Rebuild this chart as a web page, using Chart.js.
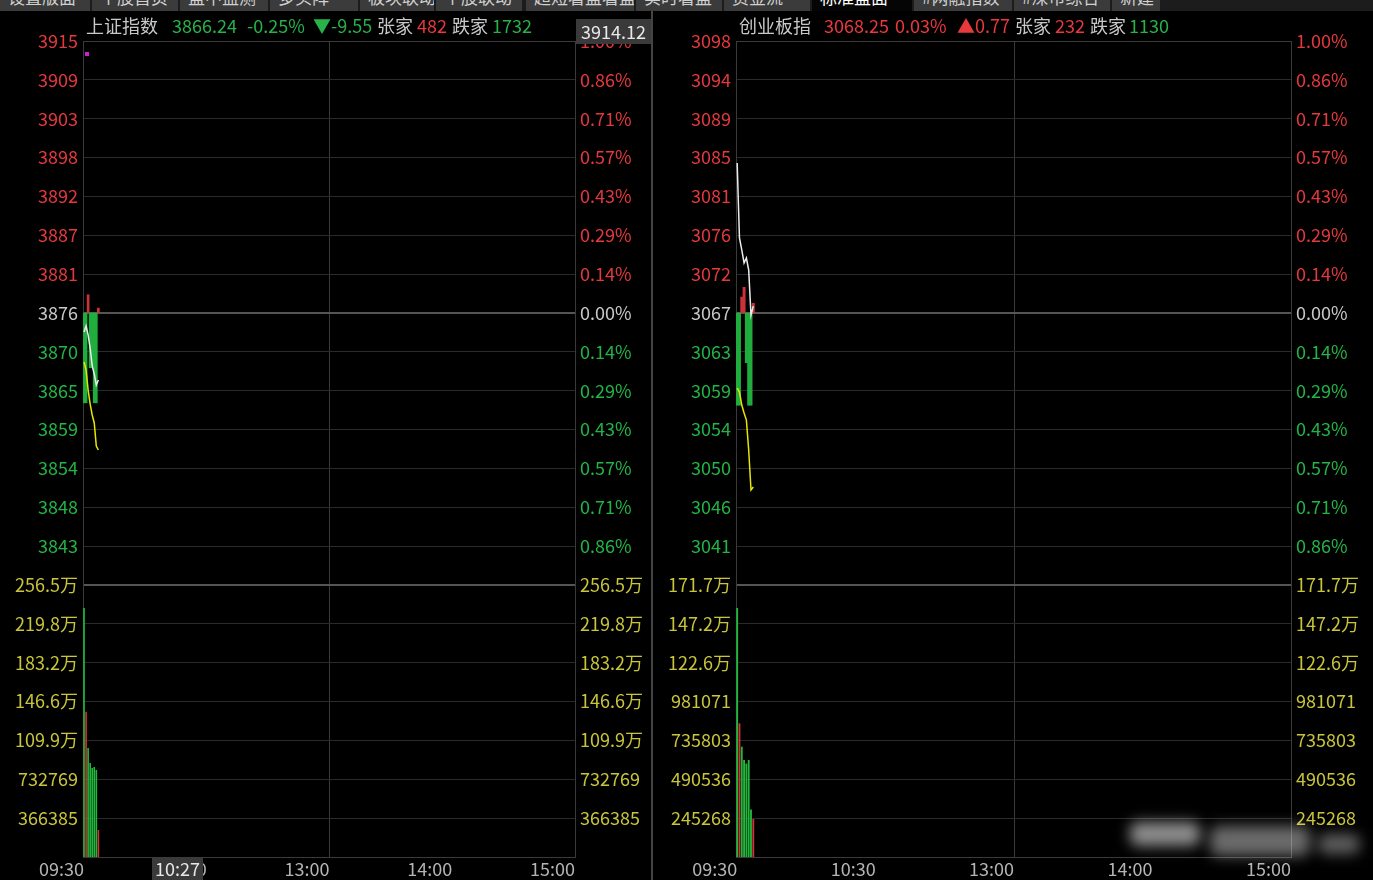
<!DOCTYPE html>
<html>
<head>
<meta charset="utf-8">
<script src="https://cdn.jsdelivr.net/npm/chart.js@4.4.1/dist/chart.umd.min.js"></script>
<style>
  body { margin:0; background:#000; width:1373px; height:880px; overflow:hidden; position:relative;
         font-family:"Noto Sans CJK SC","Noto Sans",sans-serif; }
  .tabs { position:absolute; left:0; top:0; width:1373px; height:11px; background:#1c1c1c; overflow:hidden; }
  .tab { position:absolute; top:0; height:11px; background:#3b3b3b; overflow:hidden; }
  .tab span { position:absolute; left:8px; top:-13px; font-size:17px; line-height:20px; color:#d0d0d0; white-space:nowrap; }
  .tab.active { background:#050505; }
  .tab.active span { color:#fff; }
  .hd { position:absolute; top:13px; font-size:18px; line-height:24px; white-space:nowrap; }
  .box { position:absolute; background:#3a3a3a; color:#e8e8e8; font-size:18px; text-align:center; }
  canvas { position:absolute; top:0; }
  .sep { position:absolute; left:651px; top:11px; width:2px; height:869px; background:#444; }
  .blob { position:absolute; background:rgba(235,235,235,0.6); filter:blur(7px); border-radius:8px; }
</style>
</head>
<body>
<div class="tabs">
  <div class="tab" style="left:0;width:90px"><span>设置版面</span></div>
  <div class="tab" style="left:92px;width:86px"><span>个股首页</span></div>
  <div class="tab" style="left:180px;width:88px"><span>盘中监测</span></div>
  <div class="tab" style="left:270px;width:88px"><span>多头阵</span></div>
  <div class="tab" style="left:360px;width:74px"><span>板块联动</span></div>
  <div class="tab" style="left:436px;width:86px"><span>个股联动</span></div>
  <div class="tab" style="left:526px;width:108px"><span>超短看盘看盘</span></div>
  <div class="tab" style="left:636px;width:86px"><span>实时看盘</span></div>
  <div class="tab" style="left:724px;width:86px"><span>资金流</span></div>
  <div class="tab active" style="left:812px;width:100px"><span>标准盘面</span></div>
  <div class="tab" style="left:914px;width:98px"><span>#两融指数</span></div>
  <div class="tab" style="left:1014px;width:96px"><span>#深市综合</span></div>
  <div class="tab" style="left:1112px;width:48px"><span>新建</span></div>
</div>

<canvas id="shChart" width="652" height="880" style="left:0"></canvas>
<canvas id="cybChart" width="721" height="880" style="left:652px"></canvas>
<div class="sep"></div>

<div class="hd" style="left:86px;color:#c8c8c8">上证指数</div>
<div class="hd" style="left:172px;color:#27b24a">3866.24</div>
<div class="hd" style="left:247px;color:#27b24a">-0.25%</div>
<div class="hd" style="left:313px;color:#27b24a">▼-9.55</div>
<div class="hd" style="left:377px;color:#c8c8c8">张家</div>
<div class="hd" style="left:417px;color:#e8393d">482</div>
<div class="hd" style="left:452px;color:#c8c8c8">跌家</div>
<div class="hd" style="left:492px;color:#27b24a">1732</div>

<div class="hd" style="left:739px;color:#c8c8c8">创业板指</div>
<div class="hd" style="left:824px;color:#e8393d">3068.25</div>
<div class="hd" style="left:895px;color:#e8393d">0.03%</div>
<div class="hd" style="left:957px;color:#e8393d">▲0.77</div>
<div class="hd" style="left:1015px;color:#c8c8c8">张家</div>
<div class="hd" style="left:1055px;color:#e8393d">232</div>
<div class="hd" style="left:1090px;color:#c8c8c8">跌家</div>
<div class="hd" style="left:1129px;color:#27b24a">1130</div>

<div class="box" style="left:576px;top:19px;width:75px;height:25px;line-height:25px">3914.12</div>
<div class="box" style="left:152px;top:857px;width:51px;height:23px;line-height:22px">10:27</div>
<div style="position:absolute;left:85px;top:52px;width:4px;height:4px;background:#d21ed2"></div>

<div class="blob" style="left:1130px;top:822px;width:70px;height:24px"></div>
<div class="blob" style="left:1210px;top:826px;width:100px;height:30px;background:rgba(235,235,235,0.45)"></div>
<div class="blob" style="left:1318px;top:834px;width:42px;height:20px;background:rgba(235,235,235,0.4)"></div>

<script>
// time axis (minute index 0..240)
const timeTickValues = [0, 60, 120, 180, 240];
const timeLabels = ['09:30', '10:30', '13:00', '14:00', '15:00'];

// 上证指数
const shPrevClose = 3875.79;
const shPrice = [3873.08, 3873.94, 3872.66, 3870.80, 3868.24, 3867.10, 3865.53, 3866.24];
const shAvg = [3868.81, 3867.67, 3864.82, 3862.82, 3861.26, 3860.12, 3856.84, 3856.27];
const shLead = [-12.8, -12.8, 2.6, -7.8, -7.8, -12.8, -12.8, 0.7];
const shVol = [2347600, 1369900, 1027700, 886200, 839100, 848500, 820000, 254600];
const shVolDir = ['down', 'up', 'down', 'down', 'down', 'down', 'down', 'up'];
const shVolTop = 2564695;
const shPriceTicks = ['3915','3909','3903','3898','3892','3887','3881','3876','3870','3865','3859','3854','3848','3843'];
const shPctTicks = ['1.00%','0.86%','0.71%','0.57%','0.43%','0.29%','0.14%','0.00%','0.14%','0.29%','0.43%','0.57%','0.71%','0.86%'];
const shVolTicks = ['256.5万','219.8万','183.2万','146.6万','109.9万','732769','366385'];

// 创业板指
const cybPrevClose = 3067.48;
const cybPrice = [3084.40, 3075.94, 3074.59, 3073.12, 3073.68, 3072.33, 3067.25, 3068.25];
const cybAvg = [3059.02, 3058.57, 3057.10, 3056.20, 3055.41, 3052.03, 3047.52, 3047.86];
const cybLead = [-10.4, -10.4, 1.8, 2.9, -5.6, -10.4, -10.4, 1.1];
const cybVol = [1571700, 844000, 696200, 612300, 590000, 612300, 300000, 240000];
const cybVolDir = ['down', 'up', 'down', 'down', 'down', 'down', 'down', 'up'];
const cybVolTop = 1716875;
const cybPriceTicks = ['3098','3094','3089','3085','3081','3076','3072','3067','3063','3059','3054','3050','3046','3041'];
const cybPctTicks = ['1.00%','0.86%','0.71%','0.57%','0.43%','0.29%','0.14%','0.00%','0.14%','0.29%','0.43%','0.57%','0.71%','0.86%'];
const cybVolTicks = ['171.7万','147.2万','122.6万','981071','735803','490536','245268'];

const RED = '#e4393c';
const GREEN = '#22b446';
const GRAY = '#c8c8c8';
const YELLOW = '#c9c53a';

Chart.defaults.font.family = '"Noto Sans CJK SC", "Noto Sans", sans-serif';
Chart.defaults.font.size = 18;

// label axes run 0..21 (one unit per grid row), 21 = top
function tickText(v, priceTicks, volTicks) {
  if (v >= 8) return priceTicks[21 - v];
  if (v >= 1) return volTicks[7 - v];
  return '';
}
function tickColor(v) {
  if (v >= 15) return RED;
  if (v === 14) return GRAY;
  if (v >= 8) return GREEN;
  return YELLOW;
}
function gridTicks(scale) {
  const t = [];
  for (let v = 0; v <= 21; v++) t.push({ value: v });
  scale.ticks = t;
}

function makePanel(id, p) {
  const ctx = document.getElementById(id).getContext('2d');
  return new Chart(ctx, {
    type: 'line',
    data: {
      datasets: [
        {
          data: p.price.map((v, i) => ({ x: i, y: v })),
          yAxisID: 'yP', borderColor: '#ececec', borderWidth: 1.5,
          pointRadius: 0, tension: 0, order: 0
        },
        {
          data: p.avg.map((v, i) => ({ x: i, y: v })),
          yAxisID: 'yP', borderColor: '#e8e600', borderWidth: 1.5,
          pointRadius: 0, tension: 0, order: 1
        },
        {
          type: 'bar',
          data: p.lead.map((d, i) => ({ x: i, y: [p.pc, p.pc + d] })),
          yAxisID: 'yP',
          backgroundColor: p.lead.map(d => d >= 0 ? '#c8323a' : '#1fae3e'),
          grouped: false, barPercentage: 1, categoryPercentage: 1, order: 3
        },
        {
          type: 'bar',
          data: p.vol.map((v, i) => ({ x: i, y: v })),
          yAxisID: 'yV',
          backgroundColor: p.volDir.map(d => d === 'up' ? '#d0323a' : '#22b83c'),
          grouped: false, barPercentage: 0.8, categoryPercentage: 1, order: 3
        }
      ]
    },
    options: {
      responsive: false,
      animation: false,
      devicePixelRatio: 1,
      layout: { padding: { top: 41, left: 0, right: 0, bottom: 0 } },
      plugins: { legend: { display: false }, tooltip: { enabled: false } },
      scales: {
        x: {
          type: 'linear', min: -0.5, max: 240, offset: false,
          afterBuildTicks: s => { s.ticks = timeTickValues.map(v => ({ value: v })); },
          afterFit: s => { s.height = 23; },
          grid: {
            offset: false, drawTicks: false,
            color: c => c.tick && c.tick.value === 120 ? '#3a3a3a' : 'rgba(0,0,0,0)'
          },
          border: { color: '#3a3a3a' },
          ticks: {
            align: 'end', color: '#b4b4b4', padding: 1, maxRotation: 0, autoSkip: false,
            callback: v => timeLabels[timeTickValues.indexOf(v)]
          }
        },
        yL: {
          type: 'linear', position: 'left', min: 0, max: 21,
          afterBuildTicks: gridTicks,
          afterFit: s => { s.width = p.leftW; },
          grid: {
            drawTicks: false,
            color: c => (c.tick.value === 14 || c.tick.value === 7) ? '#555' : (c.tick.value === 21 ? '#3a3a3a' : '#2a2a2a'),
            lineWidth: c => (c.tick.value === 14 || c.tick.value === 7) ? 2 : 1
          },
          border: { color: '#3a3a3a' },
          ticks: {
            padding: 5,
            color: c => tickColor(c.tick.value),
            callback: v => tickText(v, p.priceTicks, p.volTicks)
          }
        },
        yR: {
          type: 'linear', position: 'right', min: 0, max: 21,
          afterBuildTicks: gridTicks,
          afterFit: s => { s.width = p.rightW; },
          grid: { drawTicks: false, drawOnChartArea: false },
          border: { color: '#3a3a3a' },
          ticks: {
            padding: 5,
            color: c => tickColor(c.tick.value),
            callback: v => tickText(v, p.pctTicks, p.volTicks)
          }
        },
        yP: { type: 'linear', display: false, bounds: 'data', min: p.pc * 0.98, max: p.pc * 1.01 },
        yV: { type: 'linear', display: false, bounds: 'data', min: 0, max: p.volTop * 3 }
      }
    }
  });
}

makePanel('shChart', {
  pc: shPrevClose, price: shPrice, avg: shAvg, lead: shLead,
  vol: shVol, volDir: shVolDir, volTop: shVolTop,
  priceTicks: shPriceTicks, pctTicks: shPctTicks, volTicks: shVolTicks,
  leftW: 83, rightW: 77
});
makePanel('cybChart', {
  pc: cybPrevClose, price: cybPrice, avg: cybAvg, lead: cybLead,
  vol: cybVol, volDir: cybVolDir, volTop: cybVolTop,
  priceTicks: cybPriceTicks, pctTicks: cybPctTicks, volTicks: cybVolTicks,
  leftW: 84, rightW: 82
});
</script>
</body>
</html>
